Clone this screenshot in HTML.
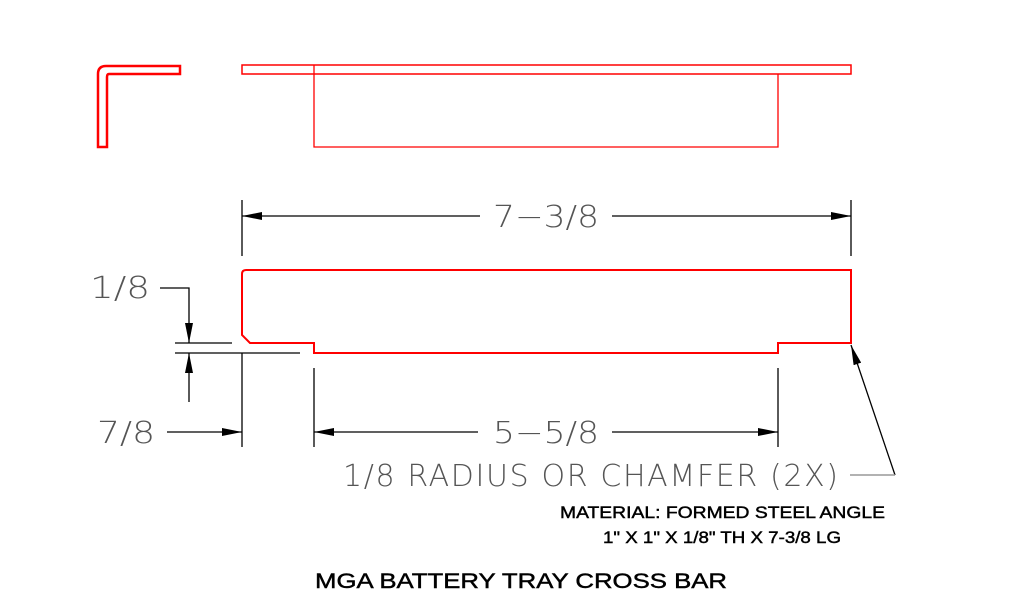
<!DOCTYPE html>
<html><head><meta charset="utf-8"><style>
html,body{margin:0;padding:0;background:#fff;width:1024px;height:600px;overflow:hidden}
svg{display:block}
.cad{font-family:"DejaVu Sans","Liberation Sans",sans-serif;font-weight:200;font-size:30px;fill:#555}
.t{font-family:"Liberation Sans",sans-serif;fill:#000;stroke:#000;stroke-width:0.45}
</style></head><body>
<svg width="1024" height="600" viewBox="0 0 1024 600">
<defs>
<marker id="a" viewBox="0 0 20 8" refX="20" refY="4" markerWidth="20" markerHeight="8" markerUnits="userSpaceOnUse" orient="auto"><path d="M0,0 L20,4 L0,8 Z" fill="#000"/></marker>
</defs>
<path d="M98,147 L98,74 Q98,66 106,66 L180,66 L180,74 L109,74 Q107,74 107,77 L107,147 Z" fill="none" stroke="#f00" stroke-width="2.5"/>
<rect x="242" y="65" width="609" height="9" fill="none" stroke="#f00" stroke-width="1.5"/>
<path d="M314,65 L314,147 L778,147 L778,74" fill="none" stroke="#f00" stroke-width="1.3"/>
<path d="M242,274 Q242,270 246,270 L851,270 L851,343 L778,343 L778,353 L314,353 L314,343 L250,343 L242,335 Z" fill="none" stroke="#f00" stroke-width="2"/>
<g stroke="#000" stroke-width="1.3" fill="none">
<line x1="242" y1="200" x2="242" y2="256"/>
<line x1="851" y1="200" x2="851" y2="256"/>
<line x1="480" y1="216" x2="242" y2="216" marker-end="url(#a)"/>
<line x1="612" y1="216" x2="851" y2="216" marker-end="url(#a)"/>
<line x1="175" y1="343" x2="232" y2="343"/>
<line x1="175" y1="353" x2="300" y2="353"/>
<polyline points="160,288 189,288 189,343" marker-end="url(#a)"/>
<line x1="189" y1="402" x2="189" y2="353" marker-end="url(#a)"/>
<line x1="242" y1="353" x2="242" y2="447"/>
<line x1="314" y1="368" x2="314" y2="447"/>
<line x1="778" y1="368" x2="778" y2="447"/>
<line x1="167" y1="432" x2="242" y2="432" marker-end="url(#a)"/>
<line x1="478" y1="432" x2="314" y2="432" marker-end="url(#a)"/>
<line x1="612" y1="432" x2="778" y2="432" marker-end="url(#a)"/>
<line x1="895" y1="475" x2="851" y2="345" marker-end="url(#a)"/>
</g>
<line x1="850" y1="475" x2="895" y2="475" stroke="#999" stroke-width="1.5"/>
<text class="cad" x="493" y="227" textLength="106" lengthAdjust="spacingAndGlyphs">7−3/8</text>
<text class="cad" x="90" y="298" textLength="60" lengthAdjust="spacingAndGlyphs">1/8</text>
<text class="cad" x="97" y="443" textLength="58" lengthAdjust="spacingAndGlyphs">7/8</text>
<text class="cad" x="493" y="443" textLength="106" lengthAdjust="spacingAndGlyphs">5−5/8</text>
<text class="cad" x="343" y="486" textLength="495" lengthAdjust="spacing">1/8 RADIUS OR CHAMFER (2X)</text>
<text class="t" x="560" y="518" font-size="17" textLength="325" lengthAdjust="spacingAndGlyphs">MATERIAL:  FORMED STEEL ANGLE</text>
<text class="t" x="603" y="543" font-size="17" textLength="238" lengthAdjust="spacingAndGlyphs">1" X 1" X 1/8" TH X 7-3/8 LG</text>
<text class="t" x="315" y="588" font-size="21" textLength="412" lengthAdjust="spacingAndGlyphs">MGA BATTERY TRAY CROSS BAR</text>
</svg>
</body></html>
